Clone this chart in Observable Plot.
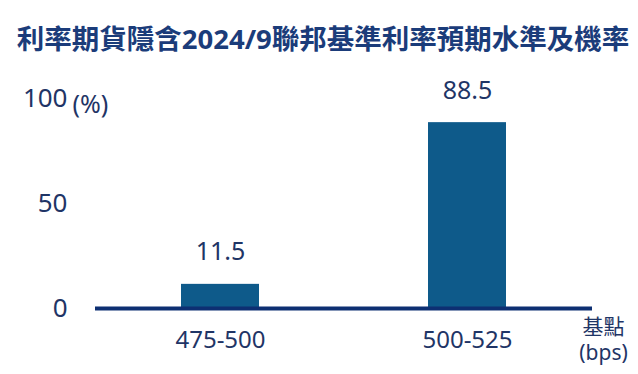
<!DOCTYPE html>
<html>
<head>
<meta charset="utf-8">
<script src="https://cdn.jsdelivr.net/npm/d3@7"></script>
<script src="https://cdn.jsdelivr.net/npm/@observablehq/plot@0.6"></script>
<style>
  html, body { margin: 0; padding: 0; background: #fff; }
  #wrap { width: 638px; height: 374px; overflow: hidden; font-family: "Noto Sans", "Noto Sans CJK TC", sans-serif; }
  #title { height: 62px; box-sizing: border-box; padding-top: 12px; display: flex; align-items: center; justify-content: center;
           font-size: 27.5px; font-weight: bold; color: #1b3c7a; font-family: "Noto Sans", "Noto Sans CJK TC", sans-serif; white-space: nowrap; padding-left: 8px; }
</style>
</head>
<body>
<div id="wrap">
  <div id="title">利率期貨隱含2024/9聯邦基準利率預期水準及機率</div>
  <div id="chart"></div>
</div>
<script>
const categories = ["475-500", "500-525"];
const probabilities = [11.5, 88.5];
const yTicks = [0, 50, 100];
const yUnit = "(%)";
const xUnit = "基點\n(bps)";

const data = categories.map((c, i) => ({range: c, p: probabilities[i]}));
const textColor = "#1f3566";

const chart = Plot.plot({
  width: 638,
  height: 312,
  marginTop: 36,
  marginBottom: 66,
  marginLeft: 95,
  marginRight: 46,
  style: {fontFamily: '"Noto Sans", "Noto Sans CJK TC", sans-serif', background: "#fff", overflow: "visible"},
  x: {domain: categories, paddingInner: 0.684, paddingOuter: 0.348, label: null},
  y: {domain: [0, 100], label: null},
  marks: [
    Plot.barY(data, {x: "range", y: "p", fill: "#0e5a8a"}),
    Plot.ruleY([0], {stroke: "#0d2f72", strokeWidth: 4}),
    Plot.text(data, {x: "range", y: "p", text: d => d.p.toFixed(1), dy: -32, fontSize: 25, fill: textColor}),
    Plot.axisY({ticks: yTicks, tickSize: 0, tickPadding: 28, fontSize: 26, fill: textColor, label: null}),
    Plot.axisX({tickSize: 0, tickPadding: 22, fontSize: 24, fill: textColor, label: null}),
    Plot.text([yUnit], {frameAnchor: "top-left", textAnchor: "start", dx: -23, dy: -3, fontSize: 25, fill: textColor}),
    Plot.text([xUnit], {frameAnchor: "bottom-right", textAnchor: "middle", lineAnchor: "top", lineHeight: 1.2, dx: 11, dy: 8, fontSize: 21, fill: textColor})
  ]
});
document.getElementById("chart").appendChild(chart);
</script>
</body>
</html>
